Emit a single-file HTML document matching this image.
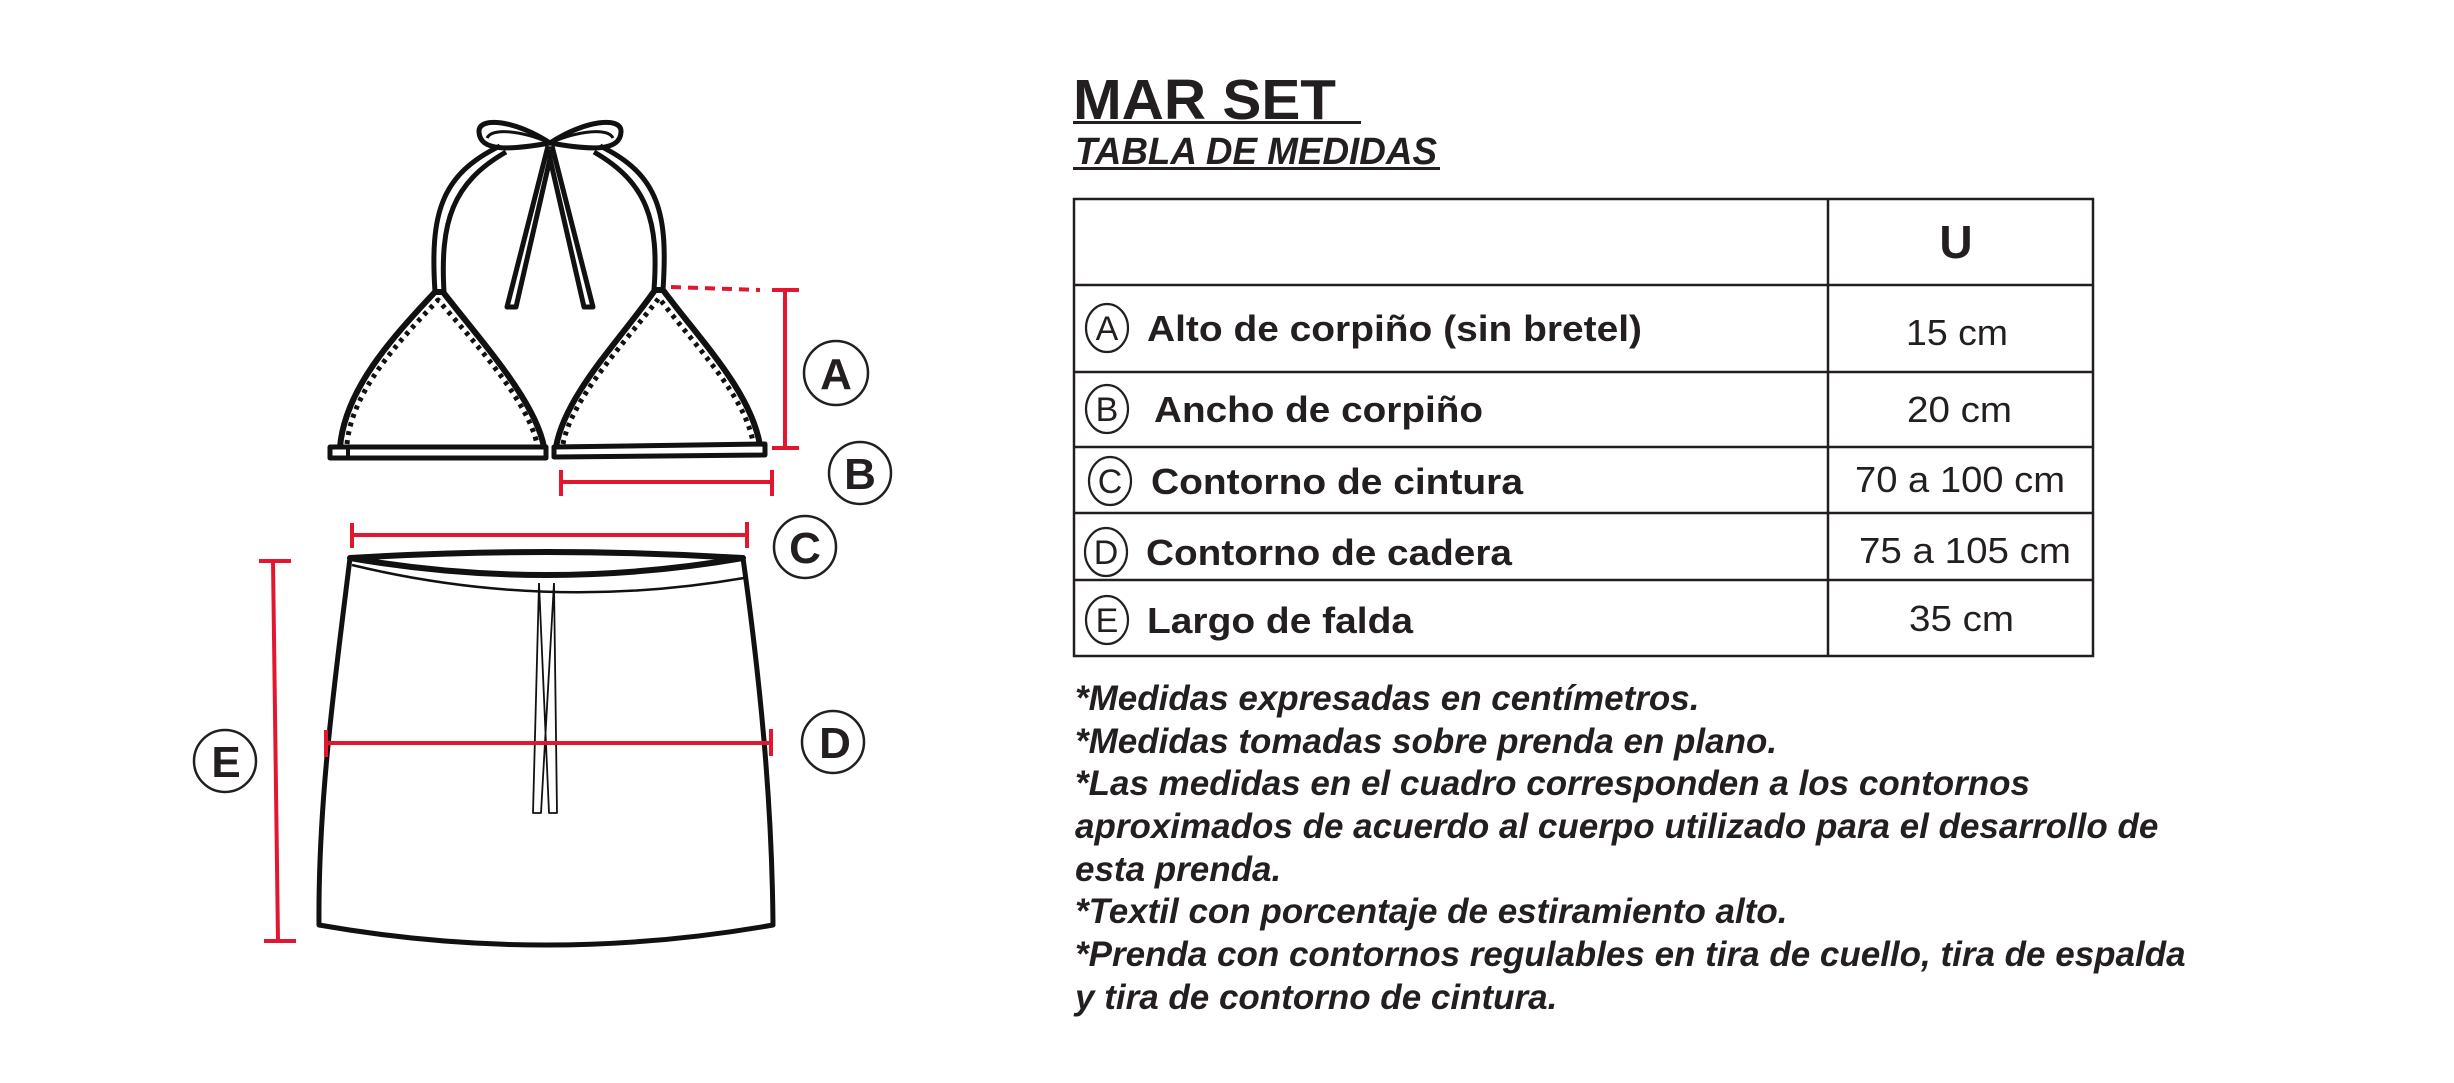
<!DOCTYPE html>
<html><head><meta charset="utf-8"><style>
html,body{margin:0;padding:0;background:#fff;}
svg{display:block;}
text{font-family:"Liberation Sans",Arial,sans-serif;fill:#231f20;}
</style></head><body>
<svg width="2454" height="1083" viewBox="0 0 2454 1083" xmlns="http://www.w3.org/2000/svg">
<rect width="2454" height="1083" fill="#fff"/>
<!-- Bikini top -->
<g fill="none" stroke="#111" stroke-width="5" stroke-linejoin="round" stroke-linecap="butt">
  <!-- bow loops -->
  <path d="M550 143 C515 120 478 116 479 132 C480 152 510 150 550 143"/>
  <path d="M550 143 C520 130 492 128 487 138" stroke-width="3"/>
  <path d="M550 143 C585 120 622 116 621 132 C620 152 590 150 550 143"/>
  <path d="M550 143 C580 130 608 128 613 138" stroke-width="3"/>
  <!-- straps -->
  <path d="M435 292 C430 215 440 175 500 146"/>
  <path d="M444 292 C440 222 452 183 506 152"/>
  <path d="M663 290 C668 215 660 175 600 146"/>
  <path d="M654 290 C659 222 648 183 594 152"/>
  <!-- ties -->
  <path d="M548 146 L507 307 L516 307 L552 150"/>
  <path d="M552 146 L593 307 L584 307 L548 150"/>
  <!-- cups -->
  <path d="M340 447 C345 390 390 340 435 292 L443 292 C480 340 535 400 544 447" stroke-width="6"/>
  <path d="M556 447 C565 395 620 340 655 290 L663 290 C700 340 750 390 760 445" stroke-width="6"/>
  <path d="M347 444 C352 392 396 344 438 300 C478 346 528 402 537 444" stroke-width="5" stroke-dasharray="4 5"/>
  <path d="M563 444 C572 398 622 346 659 298 C695 346 744 394 753 442" stroke-width="5" stroke-dasharray="4 5"/>
  <!-- bands -->
  <path d="M330 447 L546 447 L546 458 L330 458 Z" stroke-width="5"/>
  <path d="M554 447 L765 444 L765 455 L554 457 Z" stroke-width="5"/>
  <path d="M330 447 L348 447 L348 458" stroke-width="4"/>
</g>
<!-- Skirt -->
<g fill="none" stroke="#111" stroke-linejoin="round">
  <path d="M350 558 Q546 546 743 558 Q546 592 350 558 Z" stroke-width="6"/>
  <path d="M352 565 Q546 612 744 578" stroke-width="2.5"/>
  <path d="M350 558 C335 680 318 800 319 925 Q546 965 773 925 C772 800 760 680 743 558" stroke-width="5"/>
  <path d="M539 583 L533 813 L541 813 L554 583 M554 583 L557 813 L549 813 L539 583" stroke-width="1.8"/>
</g>
<!-- red measures -->
<g stroke="#e3162f" stroke-width="4" fill="none">
  <path d="M671 287 L760 290" stroke-dasharray="10 7"/>
  <path d="M785 290 L785 448 M772 290 L799 290 M772 448 L799 448"/>
  <path d="M561 482 L772 482 M561 470 L561 496 M772 470 L772 496"/>
  <path d="M352 535 L747 535 M352 523 L352 548 M747 522 L747 548"/>
  <path d="M326 743 L771 743 M326 730 L326 757 M771 729 L771 756"/>
  <path d="M273 561 L278 941 M259 561 L291 561 M264 941 L296 941"/>
</g>
<!-- measure circles -->
<g fill="none" stroke="#231f20" stroke-width="2.5">
  <circle cx="836" cy="373" r="32"/><circle cx="860" cy="473" r="31"/>
  <circle cx="805" cy="547" r="31"/><circle cx="833" cy="742" r="31"/>
  <circle cx="225" cy="761" r="31"/>
</g>
<g font-weight="bold" font-size="44" text-anchor="middle">
  <text x="836" y="389">A</text><text x="860" y="489">B</text>
  <text x="805" y="563">C</text><text x="835" y="758">D</text>
  <text x="226" y="777">E</text>
</g>
<!-- titles -->
<text x="1073" y="119" font-size="57" font-weight="bold" textLength="263" lengthAdjust="spacingAndGlyphs">MAR SET</text>
<rect x="1073" y="121" width="288" height="3" fill="#231f20"/>
<text x="1075" y="164" font-size="38" font-weight="bold" font-style="italic" textLength="362" lengthAdjust="spacingAndGlyphs">TABLA DE MEDIDAS</text>
<rect x="1073" y="167" width="367" height="3" fill="#231f20"/>
<!-- table -->
<g stroke="#231f20" stroke-width="2.5" fill="none">
  <rect x="1074" y="199" width="1019" height="457"/>
  <path d="M1828 199 L1828 656 M1074 285 L2093 285 M1074 372 L2093 372 M1074 447 L2093 447 M1074 513 L2093 513 M1074 580 L2093 580"/>
</g>
<text x="1956" y="258" font-size="46" font-weight="bold" text-anchor="middle">U</text>
<g fill="none" stroke="#231f20" stroke-width="2.2">
  <ellipse cx="1107" cy="328" rx="21" ry="24"/>
  <ellipse cx="1107" cy="409" rx="21" ry="24"/>
  <ellipse cx="1110" cy="481" rx="21" ry="24"/>
  <ellipse cx="1106" cy="552" rx="21" ry="24"/>
  <ellipse cx="1107" cy="620" rx="21" ry="24"/>
</g>
<g font-size="34" text-anchor="middle">
  <text x="1107" y="340">A</text><text x="1107" y="421">B</text>
  <text x="1110" y="493">C</text><text x="1106" y="564">D</text>
  <text x="1107" y="632">E</text>
</g>
<g font-size="36" font-weight="bold">
  <text x="1147" y="341" textLength="495" lengthAdjust="spacingAndGlyphs">Alto de corpiño (sin bretel)</text>
  <text x="1154" y="422" textLength="329" lengthAdjust="spacingAndGlyphs">Ancho de corpiño</text>
  <text x="1151" y="494" textLength="372" lengthAdjust="spacingAndGlyphs">Contorno de cintura</text>
  <text x="1146" y="565" textLength="366" lengthAdjust="spacingAndGlyphs">Contorno de cadera</text>
  <text x="1147" y="633" textLength="266" lengthAdjust="spacingAndGlyphs">Largo de falda</text>
</g>
<g font-size="36">
  <text x="1906" y="345" textLength="102" lengthAdjust="spacingAndGlyphs">15 cm</text>
  <text x="1907" y="422" textLength="105" lengthAdjust="spacingAndGlyphs">20 cm</text>
  <text x="1855" y="492" textLength="210" lengthAdjust="spacingAndGlyphs">70 a 100 cm</text>
  <text x="1859" y="563" textLength="212" lengthAdjust="spacingAndGlyphs">75 a 105 cm</text>
  <text x="1909" y="631" textLength="105" lengthAdjust="spacingAndGlyphs">35 cm</text>
</g>
<!-- notes -->
<g font-size="35" font-weight="bold" font-style="italic">
  <text x="1075" y="710">*Medidas expresadas en centímetros.</text>
  <text x="1075" y="753">*Medidas tomadas sobre prenda en plano.</text>
  <text x="1075" y="795">*Las medidas en el cuadro corresponden a los contornos</text>
  <text x="1075" y="838">aproximados de acuerdo al cuerpo utilizado para el desarrollo de</text>
  <text x="1075" y="881">esta prenda.</text>
  <text x="1075" y="923">*Textil con porcentaje de estiramiento alto.</text>
  <text x="1075" y="966">*Prenda con contornos regulables en tira de cuello, tira de espalda</text>
  <text x="1075" y="1009">y tira de contorno de cintura.</text>
</g>
</svg>
</body></html>
